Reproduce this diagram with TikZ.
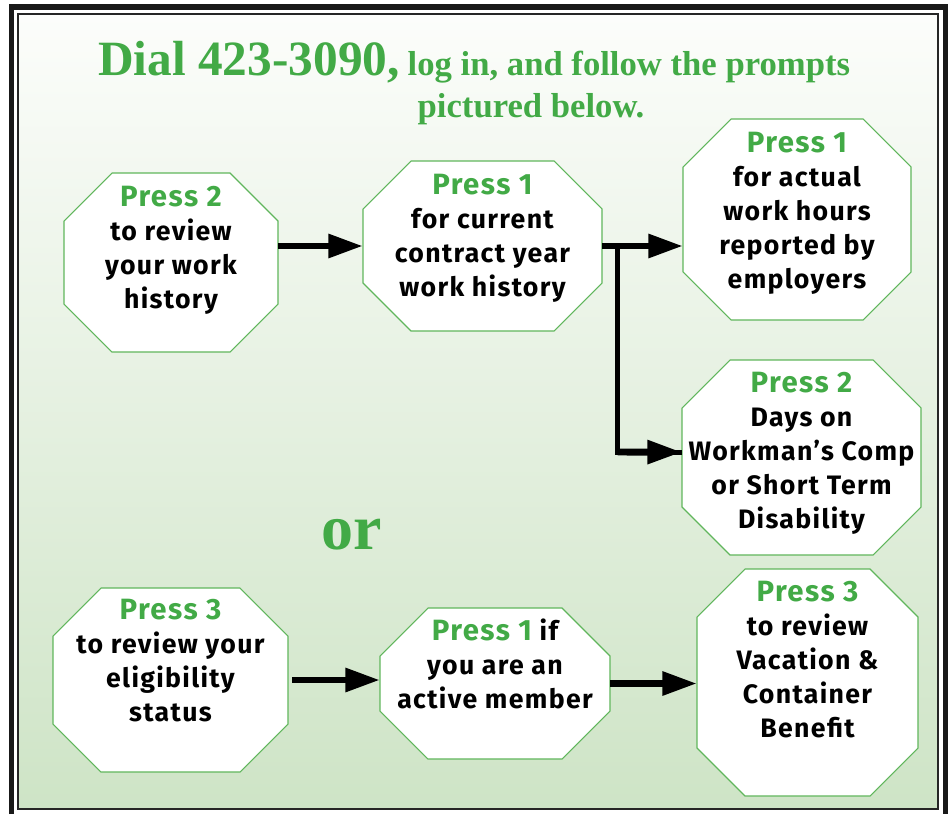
\documentclass[tikz,border=0pt]{standalone}
\usepackage{fontspec}
\setmainfont{Liberation Serif}
\newfontfamily\handfont[LetterSpace=5]{Fira Sans}
\usetikzlibrary{arrows.meta}
\definecolor{dialgreen}{RGB}{66,170,70}
\definecolor{edgegreen}{RGB}{96,182,92}
\definecolor{paletop}{RGB}{252,253,251}
\definecolor{palebottom}{RGB}{206,228,198}

\tikzset{
  octline/.style={draw=edgegreen, line width=0.8pt, fill=white},
  octframe/.style={draw=none, inner sep=0pt, outer sep=0pt},
  boxtext/.style={anchor=north, align=center, inner sep=0pt,
    font=\handfont\bfseries\fontsize{20}{25.5}\selectfont},
  bigarrow/.style={line width=5.2pt, -{Triangle[length=26pt,width=17pt]}},
  bigline/.style={line width=4pt}
}
\newcommand{\press}[1]{{\color{dialgreen}\fontsize{22}{25.5}\selectfont #1}}
\newcommand{\octbox}[5]{%
  \draw[octline] (#2+48,#3) -- (#4-48,#3) -- (#4,#3+48) -- (#4,#5-48)
    -- (#4-48,#5) -- (#2+48,#5) -- (#2,#5-48) -- (#2,#3+48) -- cycle;
  \node[octframe, minimum width={(#4-#2)*0.75pt}, minimum height={(#5-#3)*0.75pt}]
    (#1) at ({(#2+#4)/2},{(#3+#5)/2}) {};
}

\begin{document}
\begin{tikzpicture}[x=0.75pt,y=-0.75pt]
\useasboundingbox (0,0) rectangle (952,814);
\fill[white] (0,0) rectangle (952,814);
\shade[top color=paletop, bottom color=palebottom] (18,14) rectangle (938,809);
\draw[line width=1.5pt, black!85] (18,14) rectangle (938,809);
\draw[line width=3.8pt, black!90] (11.5,814) -- (11.5,7) -- (945.5,7) -- (945.5,814);

\node[anchor=base west, inner sep=0pt, text=dialgreen, font=\bfseries] (dial) at (98,75)
  {{\fontsize{37}{40}\selectfont Dial 423-3090,}\hspace{6pt}{\fontsize{26}{30}\selectfont log in, and follow the prompts}};
\node[anchor=base, inner sep=0pt, text=dialgreen, font=\bfseries\fontsize{26}{30}\selectfont] (below) at (531,117)
  {pictured below.};

\octbox{hist}{64}{173}{278}{352}
\octbox{contract}{363}{161}{602}{331}
\octbox{hours}{683}{119}{911}{320}
\octbox{comp}{682}{360}{921}{555}
\octbox{elig}{53}{588}{288}{772}
\octbox{active}{380}{608}{610}{759}
\octbox{vacation}{697}{569}{918}{796}

\node[boxtext] (histtext) at ([yshift=-9.5pt]hist.north) {\press{Press 2}\\to review\\your work\\history};
\node[boxtext] (contracttext) at ([yshift=-9.5pt]contract.north) {\press{Press 1}\\for current\\contract year\\work history};
\node[boxtext] (hourstext) at ([yshift=-9.5pt]hours.north) {\press{Press 1}\\for actual\\work hours\\reported by\\employers};
\node[boxtext] (comptext) at ([yshift=-9pt]comp.north) {\press{Press 2}\\Days on\\Workman’s Comp\\or Short Term\\Disability};
\node[boxtext] (eligtext) at ([yshift=-8pt]elig.north) {\press{Press 3}\\to review your\\eligibility\\status};
\node[boxtext] (activetext) at ([yshift=-8pt]active.north) {\press{Press 1} if\\you are an\\active member};
\node[boxtext] (vacationtext) at ([yshift=-9pt]vacation.north) {\press{Press 3}\\to review\\Vacation \&\\Container\\Benefit};

\node[text=dialgreen, font=\bfseries\fontsize{48}{52}\selectfont] (or) at (352,535) {or};

\coordinate (split) at (617.5,246);
\draw[bigarrow] (hist.east |- contract.west) -- (contract.west);
\draw[bigarrow] (contract.east) -- (hours.west |- contract.east);
\draw[bigline] (split) |- ([yshift=4pt]comp.west);
\draw[bigarrow] (split |- comp.west) ++(0,-5.5) -- ([yshift=4pt]comp.west);
\draw[bigarrow] ([xshift=3pt]elig.east) -- (active.west |- elig.east);
\draw[bigarrow] (active.east) -- (vacation.west |- active.east);
\end{tikzpicture}
\end{document}
